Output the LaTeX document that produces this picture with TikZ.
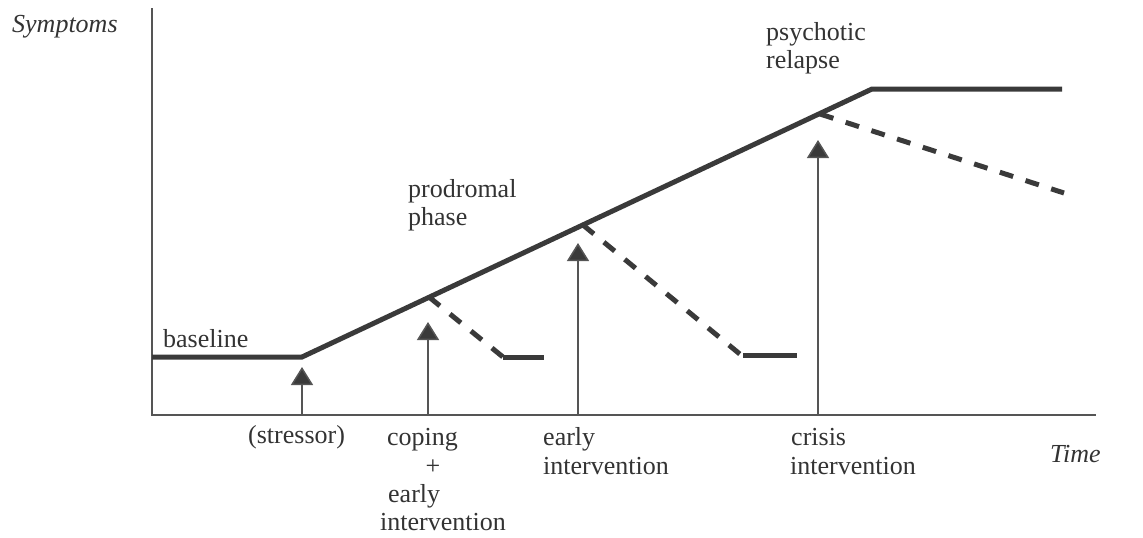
\documentclass[tikz,border=0pt]{standalone}
\usepackage{fontspec}
\setmainfont{Liberation Serif}
\usetikzlibrary{arrows.meta}
\definecolor{ink}{HTML}{3A3A3A}
\definecolor{txt}{HTML}{333333}
\definecolor{thin}{HTML}{555555}
\begin{document}
\begin{tikzpicture}[x=1pt,y=-1pt,
  lbl/.style={anchor=base west,inner sep=0pt,text=txt,font=\fontsize{26}{29}\selectfont},
  thick line/.style={draw=ink,line width=5pt},
  dash line/.style={draw=ink,line width=5pt,dash pattern=on 14pt off 13pt},
  axis/.style={draw=thin,line width=1.6pt},
  uparrow/.style={draw=thin,line width=1.5pt,-{Triangle[width=22pt,length=18pt,fill=ink]}}]
\useasboundingbox (0,0) rectangle (1143,538);
% axes
\coordinate (ytop) at (152,8);
\coordinate (orig) at (152,415);
\coordinate (xend) at (1096,415);
\draw[axis] (ytop) -- (orig) -- (xend);
% main course
\coordinate (b0) at (152,357);
\coordinate (b1) at (302,357);
\coordinate (r1) at (872,89);
\coordinate (r2) at (1062,89);
\draw[thick line] (b0) -- (b1) -- (r1) -- (r2);
% branch 1
\coordinate (d1s) at (429,297);
\coordinate (d1e) at (503,357);
\coordinate (h1e) at (544,357);
\draw[dash line] (d1s) -- (d1e);
\draw[thick line] (d1e) -- (h1e);
% branch 2
\coordinate (d2s) at (583,225);
\coordinate (d2e) at (741,355);
\coordinate (h2s) at (743,355);
\coordinate (h2e) at (797,355);
\draw[dash line] (d2s) -- (d2e);
\draw[thick line] (h2s) -- (h2e);
% branch 3
\coordinate (d3s) at (820,114);
\coordinate (d3e) at (1064,193);
\draw[dash line] (d3s) -- (d3e);
% arrows
\coordinate (a1b) at (302,415); \coordinate (a1t) at (302,367);
\coordinate (a2b) at (428,415); \coordinate (a2t) at (428,322);
\coordinate (a3b) at (578,415); \coordinate (a3t) at (578,243);
\coordinate (a4b) at (818,415); \coordinate (a4t) at (818,140);
\draw[uparrow] (a1b) -- (a1t);
\draw[uparrow] (a2b) -- (a2t);
\draw[uparrow] (a3b) -- (a3t);
\draw[uparrow] (a4b) -- (a4t);
% labels
\node[lbl,font=\fontsize{26}{29}\selectfont\itshape] (sym) at (12,32) {Symptoms};
\node[lbl,font=\fontsize{26}{29}\selectfont\itshape] (time) at (1050,462) {Time};
\node[lbl] (base) at (163,347) {baseline};
\node[lbl] (prod1) at (408,197) {prodromal};
\node[lbl] (prod2) at (408,225) {phase};
\node[lbl] (psy1) at (766,40) {psychotic};
\node[lbl] (psy2) at (766,68) {relapse};
\node[lbl] (str) at (248,443) {(stressor)};
\node[lbl] (cop1) at (387,445) {coping};
\node[lbl,anchor=base] (cop2) at (433,474) {+};
\node[lbl] (cop3) at (388,502) {early};
\node[lbl] (cop4) at (380,530) {intervention};
\node[lbl] (ei1) at (543,445) {early};
\node[lbl] (ei2) at (543,474) {intervention};
\node[lbl] (ci1) at (791,445) {crisis};
\node[lbl] (ci2) at (790,474) {intervention};
\end{tikzpicture}
\end{document}
